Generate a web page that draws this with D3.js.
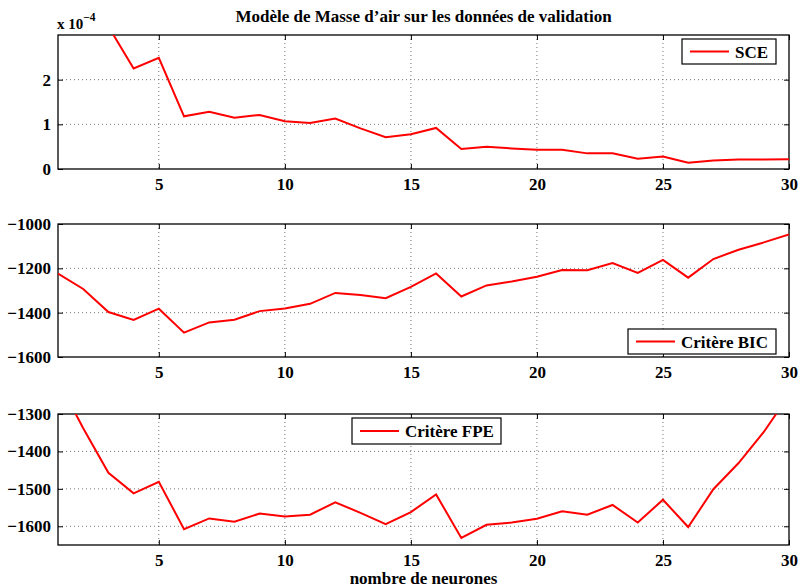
<!DOCTYPE html>
<html><head><meta charset="utf-8">
<script src="https://cdn.jsdelivr.net/npm/d3@7"></script>
<style>body{margin:0;background:#fff}svg{display:block}svg text{font-family:"Liberation Serif","Times New Roman",Times,"Nimbus Roman","DejaVu Serif",serif !important;font-weight:bold}</style>
</head><body><svg id="c" width="800" height="588"></svg>
<script>
const neurones = d3.range(1, 31);
const sce = [5.0, 4.0, 3.19, 2.25, 2.49, 1.18, 1.28, 1.15, 1.21, 1.07, 1.03, 1.13, 0.91, 0.71, 0.78, 0.92, 0.45, 0.50, 0.46, 0.43, 0.43, 0.35, 0.35, 0.23, 0.28, 0.14, 0.19, 0.21, 0.21, 0.22];
const bic = [-1224, -1293, -1397, -1433, -1382, -1490, -1444, -1432, -1393, -1381, -1360, -1311, -1320, -1335, -1284, -1223, -1327, -1277, -1259, -1238, -1208, -1209, -1176, -1221, -1162, -1242, -1158, -1116, -1083, -1047];
const fpe = [-1210, -1338, -1457, -1512, -1481, -1608, -1579, -1588, -1566, -1574, -1569, -1536, -1564, -1594, -1562, -1515, -1631, -1596, -1590, -1580, -1560, -1569, -1543, -1590, -1529, -1602, -1501, -1431, -1348, -1250];
const xTicks = [5, 10, 15, 20, 25, 30];
const sceTicks = [0, 1, 2];
const bicTicks = [-1600, -1400, -1200, -1000];
const fpeTicks = [-1600, -1500, -1400, -1300];
const titleText = "Modèle de Masse d\u2019air sur les données de validation";
const xLabel = "nombre de neurones";

const svg = d3.select("#c");
const L = 58, R = 789;
const x = d3.scaleLinear().domain([1, 30]).range([L, R]);
const fmt = v => String(v).replace("-", "\u2212");

function panel(id, top, bottom, domain, ticks, vals, legend) {
  const y = d3.scaleLinear().domain(domain).range([bottom, top]);
  const g = svg.append("g");
  g.append("clipPath").attr("id", id).append("rect").attr("x", L).attr("y", top).attr("width", R - L).attr("height", bottom - top);
  g.selectAll(".gx").data(xTicks.filter(t => t < 30)).enter().append("line")
    .attr("x1", d => x(d)).attr("x2", d => x(d)).attr("y1", top).attr("y2", bottom)
    .attr("stroke", "#555").attr("stroke-width", 0.8).attr("stroke-dasharray", "1,3");
  g.selectAll(".gy").data(ticks.filter(t => t > domain[0] && t < domain[1])).enter().append("line")
    .attr("x1", L).attr("x2", R).attr("y1", d => y(d)).attr("y2", d => y(d))
    .attr("stroke", "#555").attr("stroke-width", 0.8).attr("stroke-dasharray", "1,3");
  const ax = g.append("g").attr("transform", `translate(0,${bottom})`)
    .call(d3.axisBottom(x).tickValues(xTicks).tickSizeInner(-5).tickSizeOuter(0).tickPadding(9).tickFormat(fmt));
  const axt = g.append("g").attr("transform", `translate(0,${top})`)
    .call(d3.axisTop(x).tickValues(xTicks).tickSizeInner(-5).tickSizeOuter(0).tickFormat(""));
  const ay = g.append("g").attr("transform", `translate(${L},0)`)
    .call(d3.axisLeft(y).tickValues(ticks).tickSizeInner(-5).tickSizeOuter(0).tickPadding(7).tickFormat(fmt));
  const ayr = g.append("g").attr("transform", `translate(${R},0)`)
    .call(d3.axisRight(y).tickValues(ticks).tickSizeInner(-5).tickSizeOuter(0).tickFormat(""));
  [ax, axt, ay, ayr].forEach(a => {
    a.attr("font-family", null);
    a.select(".domain").remove();
    a.selectAll("line").attr("stroke", "#000");
    a.selectAll("text").attr("font-size", 17).attr("fill", "#000");
  });
  ax.selectAll("text").attr("dy", "0.71em");
  g.append("rect").attr("x", L).attr("y", top).attr("width", R - L).attr("height", bottom - top)
    .attr("fill", "none").attr("stroke", "#000").attr("stroke-width", 1.3);
  const line = d3.line().x((d, i) => x(neurones[i])).y(d => y(d));
  g.append("path").datum(vals).attr("d", line).attr("clip-path", `url(#${id})`)
    .attr("fill", "none").attr("stroke", "#ff0000").attr("stroke-width", 2);
  const lg = g.append("g");
  lg.append("rect").attr("x", legend.x).attr("y", legend.y).attr("width", legend.w).attr("height", legend.h)
    .attr("fill", "#fff").attr("stroke", "#000").attr("stroke-width", 1.2);
  lg.append("line").attr("x1", legend.x + 8).attr("x2", legend.x + 47).attr("y1", legend.y + legend.h / 2).attr("y2", legend.y + legend.h / 2)
    .attr("stroke", "#ff0000").attr("stroke-width", 2);
  lg.append("text").attr("x", legend.x + 53).attr("y", legend.y + legend.h / 2 + 6)
    .attr("font-size", 17).text(legend.label);
  return y;
}

panel("c1", 35, 169, [0, 3], sceTicks, sce, {x: 682, y: 39, w: 94, h: 25, label: "SCE"});
panel("c2", 224, 357, [-1600, -1000], bicTicks, bic, {x: 628, y: 329, w: 148, h: 25, label: "Crit\u00e8re BIC"});
panel("c3", 414, 545, [-1650, -1300], fpeTicks, fpe, {x: 352, y: 418, w: 149, h: 26, label: "Crit\u00e8re FPE"});

svg.append("text").attr("x", (L + R) / 2).attr("y", 22).attr("text-anchor", "middle").attr("font-size", 17).text(titleText);
const ex = svg.append("text").attr("x", 57).attr("y", 29).attr("font-size", 15);
ex.append("tspan").text("x 10");
ex.append("tspan").attr("dy", -8).attr("font-size", 11.5).text("\u22124");
svg.append("text").attr("x", (L + R) / 2).attr("y", 584).attr("text-anchor", "middle").attr("font-size", 17).text(xLabel);
</script></body></html>
